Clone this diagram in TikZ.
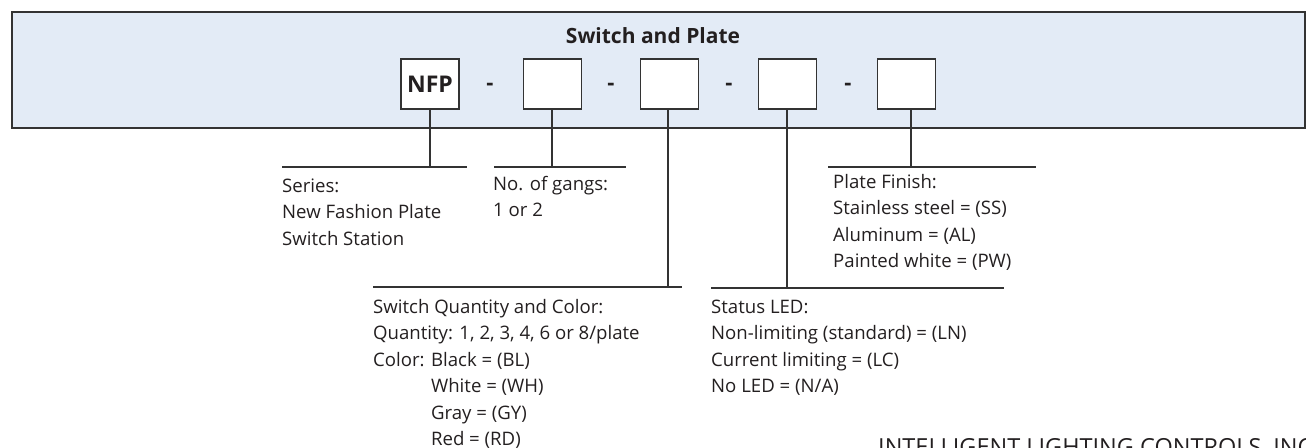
\documentclass[tikz,border=0pt]{standalone}
\usepackage{fontspec}
\setmainfont{Open Sans}
\definecolor{bandfill}{HTML}{E3EBF6}
\definecolor{linec}{HTML}{333333}
\definecolor{ink}{HTML}{231F20}
\begin{document}
\begin{tikzpicture}[x=1pt,y=-1pt,
  band/.style={draw=linec, line width=1.6pt, fill=bandfill},
  codebox/.style={draw=linec, line width=1.1pt, fill=white, minimum width=58pt, minimum height=50pt, inner sep=0pt, text=ink, font=\fontsize{23}{28}\selectfont\bfseries},
  dashmark/.style={font=\fontsize{22}{26}\selectfont\bfseries, inner sep=0pt, text=ink},
  leader/.style={draw=linec, line width=1.1pt},
  desc/.style={anchor=base west, inner sep=0pt, align=left, text=ink, font=\fontsize{18.6}{26.5}\selectfont}
]
\path[use as bounding box, clip] (0,0) rectangle (1306,447);
\path[band] (12,12) rectangle (1305,128);
\node[anchor=base, inner sep=0pt, text=ink, font=\fontsize{21}{26}\selectfont\bfseries] (title) at (653,43) {Switch and Plate};
\node[codebox] (b1) at (430,84) {NFP};
\node[codebox] (b2) at (552.5,84) {};
\node[codebox] (b3) at (669.5,84) {};
\node[codebox] (b4) at (787.5,84) {};
\node[codebox] (b5) at (906.5,84) {};
\node[dashmark] (d1) at (490,87) {-};
\node[dashmark] (d2) at (611,87) {-};
\node[dashmark] (d3) at (729,87) {-};
\node[dashmark] (d4) at (848,87) {-};
% leaders
\coordinate (s1) at (282,167); \coordinate (e1) at (467,167);
\draw[leader] (s1) -- (e1);
\draw[leader] (b1.south) -- (b1.south |- s1);
\coordinate (s2) at (494,167); \coordinate (e2) at (626,167);
\draw[leader] (s2) -- (e2);
\coordinate (j2) at (552,167);
\draw[leader] (j2 |- b2.south) -- (j2);
\coordinate (s3) at (373,287); \coordinate (e3) at (682,287);
\draw[leader] (s3) -- (e3);
\coordinate (j3) at (668,287);
\draw[leader] (j3 |- b3.south) -- (j3);
\coordinate (s4) at (711,288); \coordinate (e4) at (1004,288);
\draw[leader] (s4) -- (e4);
\coordinate (j4) at (787,288);
\draw[leader] (j4 |- b4.south) -- (j4);
\coordinate (s5) at (828,167); \coordinate (e5) at (1036,167);
\draw[leader] (s5) -- (e5);
\coordinate (j5) at (911,167);
\draw[leader] (j5 |- b5.south) -- (j5);
% texts (base = baseline of the last line)
\node[desc] (series) at (282,245) {Series:\\New Fashion Plate\\Switch Station};
\node[desc] (gangs) at (493,216.5) {No. of gangs:\\1 or 2};
\node[desc] (plate) at (833,267.5) {Plate Finish:\\Stainless steel = (SS)\\Aluminum = (AL)\\Painted white = (PW)};
\node[desc] (switch) at (373,445.5) {Switch Quantity and Color:\\Quantity: 1, 2, 3, 4, 6 or 8/plate\\Color: Black = (BL)\\\phantom{Color: }White = (WH)\\\phantom{Color: }Gray = (GY)\\\phantom{Color: }Red = (RD)};
\node[desc] (status) at (711,392.5) {Status LED:\\Non-limiting (standard) = (LN)\\Current limiting = (LC)\\No LED = (N/A)};
\node[anchor=base west, inner sep=0pt, text=ink, font=\fontsize{23.5}{28}\selectfont] (company) at (878,455) {INTELLIGENT LIGHTING CONTROLS, INC};
\end{tikzpicture}
\end{document}
